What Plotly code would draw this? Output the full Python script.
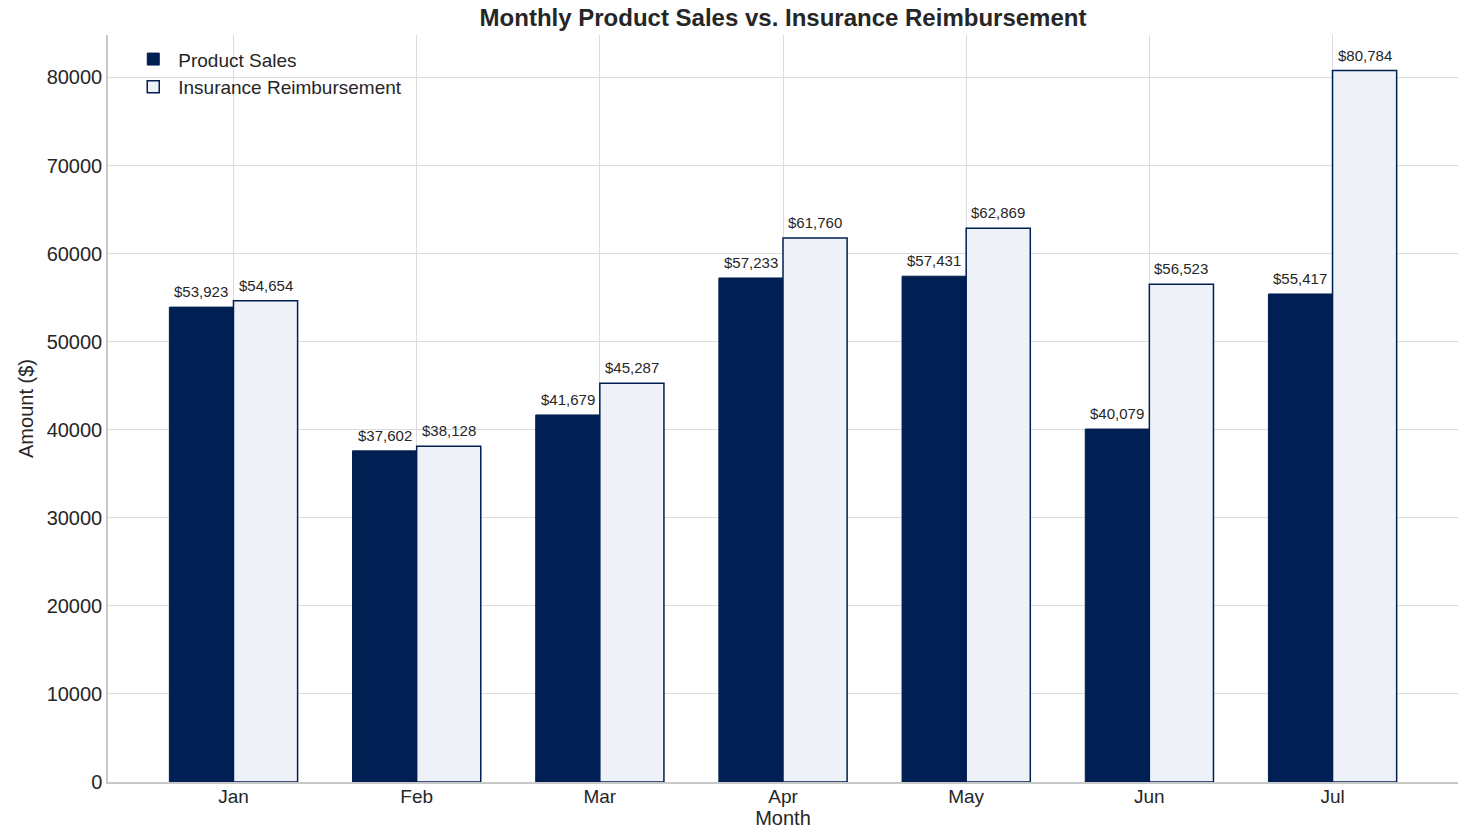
import plotly.graph_objects as go

months = ["Jan", "Feb", "Mar", "Apr", "May", "Jun", "Jul"]
product_sales = [53923, 37602, 41679, 57233, 57431, 40079, 55417]
insurance = [54654, 38128, 45287, 61760, 62869, 56523, 80784]

navy = "#001f52"
light = "#eef2f8"
xs = list(range(len(months)))
w = 0.35

fig = go.Figure()
fig.add_trace(go.Bar(x=[i - w / 2 for i in xs], y=product_sales, width=w, name="Product Sales",
                     marker=dict(color=navy, line=dict(color=navy, width=1))))
fig.add_trace(go.Bar(x=[i + w / 2 for i in xs], y=insurance, width=w, name="Insurance Reimbursement",
                     marker=dict(color=light, line=dict(color=navy, width=1.5))))

for i, v in enumerate(product_sales):
    fig.add_annotation(x=i - w / 2, y=v, text=f"${v:,}", showarrow=False, yanchor="bottom",
                       yshift=5, font=dict(size=15, color="#262626"))
for i, v in enumerate(insurance):
    fig.add_annotation(x=i + w / 2, y=v, text=f"${v:,}", showarrow=False, yanchor="bottom",
                       yshift=5, font=dict(size=15, color="#262626"))

fig.update_layout(
    width=1461, height=832,
    margin=dict(l=108, r=3, t=35, b=50),
    paper_bgcolor="white", plot_bgcolor="white",
    font=dict(family="Liberation Sans, Arial, sans-serif", color="#262626", size=16),
    title=dict(text="<b>Monthly Product Sales vs. Insurance Reimbursement</b>", x=0.5, xref="paper",
               xanchor="center", y=0.979, yanchor="middle", font=dict(size=24, color="#262626")),
    barmode="overlay",
    showlegend=True,
    legend=dict(x=0.015, y=0.993, xanchor="left", yanchor="top", bgcolor="rgba(255,255,255,0)",
                font=dict(size=19, color="#262626"), itemwidth=40, tracegroupgap=4),
    xaxis=dict(range=[-0.685, 6.685], tickvals=xs, ticktext=months, showgrid=True,
               gridcolor="#dcdcdc", showline=True, linecolor="#c8c8c8", linewidth=1.5,
               ticks="", tickfont=dict(size=19), zeroline=False, ticklabelstandoff=-4,
               title=dict(text="Month", font=dict(size=20), standoff=4)),
    yaxis=dict(range=[0, 84823], tickvals=list(range(0, 80001, 10000)), showgrid=True,
               gridcolor="#dcdcdc", showline=True, linecolor="#c8c8c8", linewidth=1.5,
               ticks="", tickfont=dict(size=20), zeroline=False, tickformat="d",
               title=dict(text="Amount ($)", font=dict(size=20), standoff=8)),
)

fig.write_html("out.html", config={"displayModeBar": False},
               post_script="document.body.style.margin='0';")
